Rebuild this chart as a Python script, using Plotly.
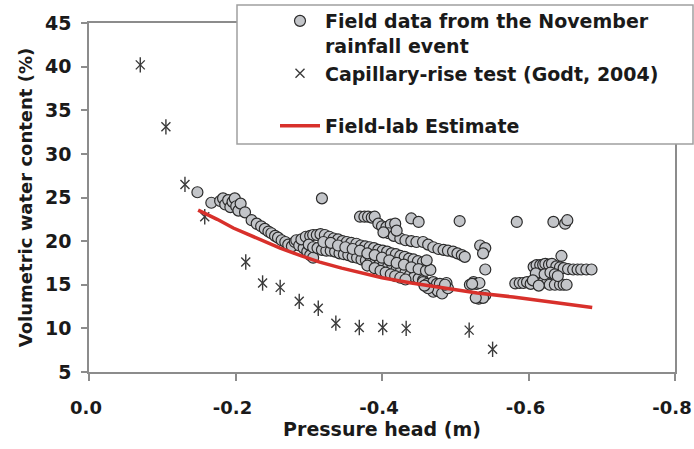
import plotly.graph_objects as go

# Field data from the November rainfall event (pressure head m, VWC %)
field_x = [
    -0.148, -0.167, -0.179, -0.183, -0.186, -0.190, -0.193, -0.196, -0.199, -0.201, -0.204, -0.207,
    -0.213, -0.222, -0.229, -0.235, -0.240, -0.245, -0.249, -0.254, -0.258, -0.263, -0.268, -0.272,
    -0.277, -0.281, -0.283, -0.287, -0.293, -0.298, -0.302, -0.306,
    -0.318,
    -0.290, -0.296, -0.302, -0.306, -0.311, -0.316, -0.322, -0.328, -0.334, -0.340, -0.346, -0.352,
    -0.358, -0.365, -0.371, -0.377, -0.383, -0.389, -0.395, -0.401, -0.407, -0.413, -0.419, -0.425,
    -0.431, -0.437, -0.443, -0.449, -0.456,
    -0.300, -0.306, -0.312, -0.318, -0.324, -0.330, -0.336, -0.342, -0.348, -0.354, -0.360, -0.366,
    -0.372, -0.378, -0.384, -0.390, -0.396, -0.402, -0.408, -0.414, -0.420, -0.426, -0.432, -0.438,
    -0.444, -0.450, -0.456,
    -0.320, -0.330, -0.340, -0.350, -0.360, -0.370, -0.380, -0.390, -0.400, -0.410, -0.420, -0.430,
    -0.440, -0.450, -0.460,
    -0.380, -0.390, -0.398, -0.405, -0.412, -0.418, -0.425, -0.432,
    -0.370, -0.376, -0.381, -0.386, -0.390, -0.395, -0.400, -0.406, -0.412, -0.418, -0.409, -0.416,
    -0.425, -0.432, -0.440, -0.450, -0.440, -0.447, -0.456, -0.463, -0.470, -0.477, -0.484, -0.490,
    -0.497, -0.503, -0.509, -0.513, -0.402, -0.420,
    -0.456, -0.462, -0.466, -0.461, -0.470, -0.475, -0.479, -0.484, -0.470, -0.476, -0.482, -0.488,
    -0.490, -0.463, -0.458, -0.486,
    -0.506, -0.584, -0.634, -0.650, -0.653,
    -0.534, -0.541, -0.538, -0.541, -0.520, -0.525, -0.529, -0.533, -0.523, -0.532, -0.536, -0.541,
    -0.538, -0.528,
    -0.582, -0.588, -0.593, -0.598, -0.603, -0.607, -0.611, -0.616, -0.620, -0.623, -0.628, -0.632,
    -0.638, -0.643, -0.648, -0.654, -0.661, -0.667, -0.672, -0.679, -0.686, -0.645, -0.612, -0.616,
    -0.620, -0.625, -0.629, -0.636, -0.643, -0.648, -0.652, -0.610, -0.622, -0.630, -0.636, -0.640,
    -0.606, -0.614,
]
field_y = [
    25.6, 24.4, 24.6, 24.9, 24.2, 24.7, 23.9, 24.5, 24.9, 24.0, 23.5, 24.3,
    23.3, 22.4, 22.0, 21.7, 21.4, 21.1, 20.9, 20.6, 20.4, 20.1, 19.9, 19.6,
    19.4, 19.9, 20.1, 19.5, 19.2, 18.8, 18.4, 18.1,
    24.9,
    20.2, 20.5, 20.6, 20.7, 20.7, 20.8, 20.7, 20.5, 20.3, 20.2, 20.0, 19.9,
    19.8, 19.7, 19.5, 19.4, 19.3, 19.2, 19.0, 18.9, 18.8, 18.6, 18.5, 18.3,
    18.2, 18.0, 17.9, 17.7, 17.6,
    19.6, 19.3, 19.2, 19.0, 18.9, 18.9, 18.8, 18.6, 18.5, 18.4, 18.2, 18.1,
    17.9, 17.8, 17.6, 17.5, 17.3, 17.2, 17.0, 16.9, 16.8, 16.6, 16.4, 16.1,
    15.9, 15.7, 15.5,
    19.9, 19.8, 19.5, 19.3, 19.1, 18.9, 18.6, 18.4, 18.1, 17.8, 17.5, 17.3,
    17.0, 16.8, 16.6,
    17.2, 16.9, 16.6, 16.4, 16.2, 16.0, 15.8, 15.6,
    22.8, 22.8, 22.8, 22.7, 22.8, 22.0, 21.7, 21.6, 21.9, 22.0, 20.9, 20.6,
    20.3, 20.1, 22.6, 22.2, 20.0, 19.9, 19.9, 19.6, 19.3, 19.1, 19.0, 18.9,
    18.8, 18.6, 18.4, 18.2, 21.0, 21.2,
    15.3, 15.1, 16.7, 17.8, 15.3, 15.1, 15.1, 14.4, 14.2, 14.3, 14.0, 15.2,
    14.6, 14.6, 14.9, 15.0,
    22.3, 22.2, 22.2, 22.0, 22.4,
    19.5, 19.2, 18.6, 16.75, 15.0, 15.3, 15.1, 15.2, 15.1, 13.4, 13.6, 13.8,
    13.5, 13.5,
    15.15, 15.2, 15.2, 15.3, 15.1, 17.05, 17.25, 17.25, 17.3, 17.4, 17.3, 17.4,
    17.1, 17.0, 16.9, 16.8, 16.75, 16.75, 16.75, 16.75, 16.75, 18.3, 15.9, 15.6,
    15.3, 15.2, 15.0, 15.0, 15.0, 15.0, 15.0, 16.3, 16.2, 16.4, 16.2, 16.0,
    15.5, 14.9,
]

# Capillary-rise test (Godt, 2004)
cap_x = [-0.070, -0.105, -0.131, -0.158, -0.214, -0.237, -0.261, -0.287, -0.313,
         -0.337, -0.369, -0.401, -0.433, -0.519, -0.551]
cap_y = [40.2, 33.1, 26.5, 22.8, 17.6, 15.2, 14.7, 13.1, 12.3,
         10.6, 10.1, 10.1, 10.0, 9.8, 7.6]

# Field-lab Estimate
est_x = [-0.149, -0.175, -0.197, -0.230, -0.261, -0.290, -0.315, -0.345, -0.374,
         -0.400, -0.440, -0.488, -0.530, -0.579, -0.630, -0.687]
est_y = [23.55, 22.5, 21.5, 20.3, 19.2, 18.3, 17.6, 16.9, 16.3,
         15.8, 15.2, 14.55, 14.05, 13.6, 13.05, 12.4]

x_ticks = [0.0, -0.2, -0.4, -0.6, -0.8]
x_tick_labels = ["0.0", "-0.2", "-0.4", "-0.6", "-0.8"]
y_ticks = [5, 10, 15, 20, 25, 30, 35, 40, 45]

FONT = "DejaVu Sans, Liberation Sans, sans-serif"
TXT = "#1a1a1a"
AX = "#8c8c8c"
FS = 19

fig = go.Figure()
fig.add_trace(go.Scatter(
    x=field_x, y=field_y, mode="markers",
    name="<b>Field data from the November</b><br><b>rainfall event</b>",
    marker=dict(symbol="circle", size=11, color="#c3c5c9",
                line=dict(color="#2b2b2b", width=1.2)),
))
fig.add_trace(go.Scatter(
    x=cap_x, y=cap_y, mode="markers",
    name="<b>Capillary-rise test (Godt, 2004)</b><br> ",
    marker=dict(symbol="x-thin-open", size=9, color="#3a3a3a",
                line=dict(color="#3a3a3a", width=1.4)),
))
fig.add_trace(go.Scatter(
    x=cap_x, y=cap_y, mode="markers", showlegend=False, hoverinfo="skip",
    marker=dict(symbol="line-ns-open", size=11, color="#3a3a3a",
                line=dict(color="#3a3a3a", width=1.4)),
))
fig.add_trace(go.Scatter(
    x=est_x, y=est_y, mode="lines",
    name="<b>Field-lab Estimate</b>",
    line=dict(color="#d8302b", width=3.5),
))

W, H = 694, 449
L, R, T, B = 89, 19, 23, 77
pw, ph = W - L - R, H - T - B

def px_x(p):
    return (p - L) / pw

def px_y(p):
    return (H - B - p) / ph

fig.add_shape(type="rect", xref="paper", yref="paper",
              x0=px_x(237), x1=px_x(693), y0=px_y(144), y1=px_y(5),
              fillcolor="white", line=dict(color="#a0a0a0", width=1.5),
              layer="above")

fig.update_layout(
    width=W, height=H,
    margin=dict(l=L, r=R, t=T, b=B, autoexpand=False),
    paper_bgcolor="white", plot_bgcolor="white",
    font=dict(family=FONT, size=FS, color=TXT),
    showlegend=True,
    legend=dict(
        x=px_x(275), y=px_y(2), xanchor="left", yanchor="top",
        bgcolor="rgba(0,0,0,0)", borderwidth=0,
        font=dict(family=FONT, size=FS, color=TXT),
        valign="top", tracegroupgap=0, itemwidth=40,
    ),
    xaxis=dict(
        range=[0, -0.8], tickvals=x_ticks,
        ticktext=["<b>%s</b>" % t for t in x_tick_labels],
        showgrid=False, zeroline=False, automargin=False,
        showline=True, linecolor=AX, linewidth=1.5, mirror=True,
        ticks="outside", ticklen=7, tickcolor=AX, tickwidth=1.5,
        ticklabelstandoff=12, ticklabeloverflow="allow", ticklabelshift=3,
        tickfont=dict(family=FONT, size=18, color=TXT),
        title=dict(text="<b>Pressure head (m)</b>", standoff=5,
                   font=dict(family=FONT, size=FS, color=TXT)),
    ),
    yaxis=dict(
        range=[5, 45], tickvals=y_ticks,
        ticktext=["<b>%d</b>" % v for v in y_ticks],
        showgrid=False, zeroline=False, automargin=False,
        showline=True, linecolor=AX, linewidth=1.5, mirror=True,
        ticks="outside", ticklen=6, tickcolor=AX, tickwidth=1.5,
        ticklabelstandoff=6,
        tickfont=dict(family=FONT, size=FS, color=TXT),
        title=dict(text="<b>Volumetric water content (%)</b>", standoff=8,
                   font=dict(family=FONT, size=18, color=TXT)),
    ),
)

fig.write_html("out.html")
